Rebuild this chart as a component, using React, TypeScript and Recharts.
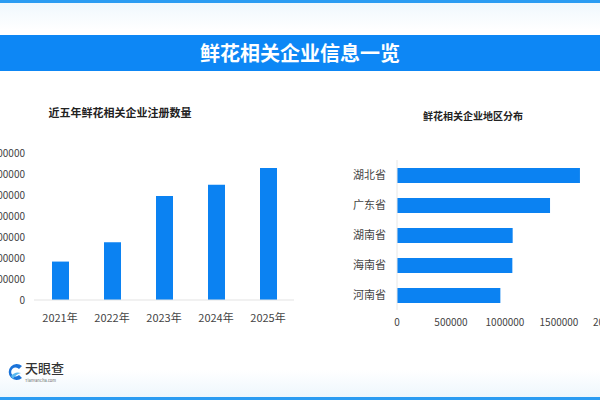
import { BarChart, Bar, XAxis, YAxis } from 'recharts';

const years = ['2021年', '2022年', '2023年', '2024年', '2025年'];
const registrations = [1830000, 2750000, 4950000, 5490000, 6290000];
const yearTicks = [0, 1000000, 2000000, 3000000, 4000000, 5000000, 6000000, 7000000];

const provinces = ['湖北省', '广东省', '湖南省', '海南省', '河南省'];
const provinceCounts = [1694000, 1417000, 1071000, 1068000, 957000];
const provinceTicks = [0, 500000, 1000000, 1500000, 2000000];

const yearData = years.map((year, i) => ({ year, count: registrations[i] }));
const provinceData = provinces.map((name, i) => ({ name, count: provinceCounts[i] }));

const BLUE = '#0b82f2';
const FONT = "'Noto Sans CJK SC', 'Open Sans', sans-serif";

const Logo = () => (
  <div style={{ position: 'absolute', left: 7, top: 361, display: 'flex', alignItems: 'center' }}>
    <svg width={17} height={20} viewBox="0 0 17 20">
      <path d="M15 4 A8 8 0 1 0 15 16 L12 13 A4.5 4.5 0 1 1 12 7 Z" fill="#1a73d9" />
      <path d="M4 14 Q8 9 14 11 Q9 12 6 17 Z" fill="#5ab8f0" />
    </svg>
    <div style={{ marginLeft: 1 }}>
      <div style={{ fontSize: 13, lineHeight: '13px', height: 13, color: '#333', fontWeight: 500 }}>天眼查</div>
      <div style={{ fontSize: 4, lineHeight: '5px', height: 5, color: '#666', marginTop: 4 }}>TianYanCha.com</div>
    </div>
  </div>
);

export default function App() {
  return (
    <div
      style={{
        position: 'absolute',
        left: 0,
        top: 0,
        width: 600,
        height: 400,
        overflow: 'hidden',
        fontFamily: FONT,
        background: 'linear-gradient(180deg, #eef7fd 0px, #ffffff 30px, #ffffff 370px, #eef7fd 397px)',
      }}
    >
      <div style={{ position: 'absolute', left: 0, top: 0, width: 600, height: 3, background: '#2b9cf2' }} />
      <div style={{ position: 'absolute', left: 0, top: 397, width: 600, height: 3, background: '#2b9cf2' }} />

      <div
        style={{
          position: 'absolute',
          left: 0,
          top: 35,
          width: 600,
          height: 36,
          background: '#0d87f5',
          color: '#fff',
          fontSize: 20,
          fontWeight: 700,
          textAlign: 'center',
          lineHeight: '36px',
        }}
      >
        鲜花相关企业信息一览
      </div>

      <div
        style={{
          position: 'absolute',
          left: 20,
          top: 104,
          width: 200,
          textAlign: 'center',
          fontSize: 11,
          fontWeight: 700,
          color: '#222',
        }}
      >
        近五年鲜花相关企业注册数量
      </div>

      <div
        style={{
          position: 'absolute',
          left: 393,
          top: 108,
          width: 160,
          textAlign: 'center',
          fontSize: 10,
          fontWeight: 700,
          color: '#222',
        }}
      >
        鲜花相关企业地区分布
      </div>

      <div style={{ position: 'absolute', left: -40, top: 140 }}>
        <BarChart width={340} height={190} data={yearData} margin={{ top: 13, right: 6, left: 0, bottom: 0 }}>
          <XAxis
            dataKey="year"
            height={30}
            tickLine={false}
            axisLine={{ stroke: '#e3e3e3' }}
            tickMargin={8}
            tick={{ fill: '#444', fontSize: 11 }}
          />
          <YAxis
            width={74}
            domain={[0, 7000000]}
            ticks={yearTicks}
            axisLine={false}
            tickLine={false}
            tickMargin={3}
            tick={{ fill: '#444', fontSize: 10 }}
          />
          <Bar dataKey="count" fill={BLUE} barSize={17} isAnimationActive={false} />
        </BarChart>
      </div>

      <div style={{ position: 'absolute', left: 300, top: 150 }}>
        <BarChart
          width={330}
          height={190}
          data={provinceData}
          layout="vertical"
          margin={{ top: 10, right: 17, left: 0, bottom: 0 }}
        >
          <XAxis
            type="number"
            domain={[0, 2000000]}
            ticks={provinceTicks}
            height={30}
            axisLine={false}
            tickLine={false}
            tickMargin={3}
            tick={{ fill: '#444', fontSize: 10 }}
          />
          <YAxis
            type="category"
            dataKey="name"
            width={97}
            axisLine={{ stroke: '#e6e6e6' }}
            tickLine={false}
            tickMargin={5}
            tick={{ fill: '#444', fontSize: 11 }}
          />
          <Bar dataKey="count" fill={BLUE} barSize={15} isAnimationActive={false} />
        </BarChart>
      </div>

      <Logo />
    </div>
  );
}
